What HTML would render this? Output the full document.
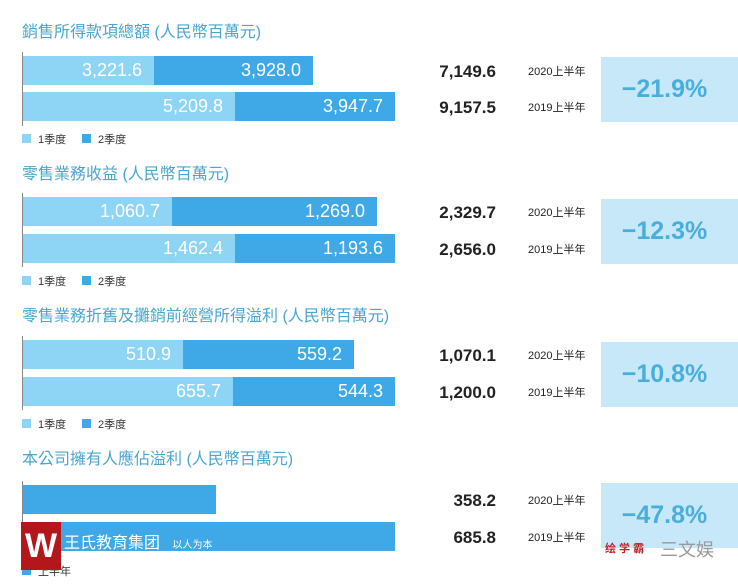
<!DOCTYPE html>
<html><head><meta charset="utf-8"><style>
body{margin:0;width:738px;height:584px;background:#fff;position:relative;overflow:hidden;font-family:"Liberation Sans","Noto Sans CJK TC",sans-serif}
.a{position:absolute}
.t{color:#4aa6cf;font-size:16px;left:22px}
.ax{width:1px;background:#888;left:22px}
.b{height:29px;color:#fff;font-size:18px;line-height:29px;text-align:right;box-sizing:border-box;padding-right:12px}
.l{background:#8dd4f5}.d{background:#3ea9e6}
.v{font-size:17px;font-weight:bold;color:#222;width:100px;text-align:right;left:396px}
.y{font-size:11px;color:#222;left:528px}
.bx{left:601px;width:137px;height:65px;background:#c6e8f8;color:#4aaedc;font-size:25px;font-weight:bold;line-height:65px;text-align:center;box-sizing:border-box;padding-right:10px}
.lg{font-size:11px;color:#333}
.sq{width:9px;height:9px}
</style></head><body>
<div class="a t" style="top:18px">銷售所得款項總額 (人民幣百萬元)</div>
<div class="a ax" style="top:52px;height:74px"></div>
<div class="a b l" style="left:23px;top:56px;width:131px">3,221.6</div>
<div class="a b d" style="left:154px;top:56px;width:159px">3,928.0</div>
<div class="a b l" style="left:23px;top:92px;width:212px">5,209.8</div>
<div class="a b d" style="left:235px;top:92px;width:160px">3,947.7</div>
<div class="a v" style="top:62px">7,149.6</div><div class="a v" style="top:98px">9,157.5</div>
<div class="a y" style="top:63px">2020上半年</div><div class="a y" style="top:99px">2019上半年</div>
<div class="a bx" style="top:57px">−21.9%</div>
<div class="a sq l" style="left:22px;top:134px"></div><div class="a lg" style="left:38px;top:131px">1季度</div>
<div class="a sq d" style="left:82px;top:134px"></div><div class="a lg" style="left:98px;top:131px">2季度</div>
<div class="a t" style="top:160px">零售業務收益 (人民幣百萬元)</div>
<div class="a ax" style="top:193px;height:74px"></div>
<div class="a b l" style="left:23px;top:197px;width:149px">1,060.7</div>
<div class="a b d" style="left:172px;top:197px;width:205px">1,269.0</div>
<div class="a b l" style="left:23px;top:234px;width:212px">1,462.4</div>
<div class="a b d" style="left:235px;top:234px;width:160px">1,193.6</div>
<div class="a v" style="top:203px">2,329.7</div><div class="a v" style="top:240px">2,656.0</div>
<div class="a y" style="top:204px">2020上半年</div><div class="a y" style="top:241px">2019上半年</div>
<div class="a bx" style="top:199px">−12.3%</div>
<div class="a sq l" style="left:22px;top:276px"></div><div class="a lg" style="left:38px;top:273px">1季度</div>
<div class="a sq d" style="left:82px;top:276px"></div><div class="a lg" style="left:98px;top:273px">2季度</div>
<div class="a t" style="top:302px">零售業務折舊及攤銷前經營所得溢利 (人民幣百萬元)</div>
<div class="a ax" style="top:336px;height:74px"></div>
<div class="a b l" style="left:23px;top:340px;width:160px">510.9</div>
<div class="a b d" style="left:183px;top:340px;width:171px">559.2</div>
<div class="a b l" style="left:23px;top:377px;width:210px">655.7</div>
<div class="a b d" style="left:233px;top:377px;width:162px">544.3</div>
<div class="a v" style="top:346px">1,070.1</div><div class="a v" style="top:383px">1,200.0</div>
<div class="a y" style="top:347px">2020上半年</div><div class="a y" style="top:384px">2019上半年</div>
<div class="a bx" style="top:342px">−10.8%</div>
<div class="a sq l" style="left:22px;top:419px"></div><div class="a lg" style="left:38px;top:416px">1季度</div>
<div class="a sq d" style="left:82px;top:419px"></div><div class="a lg" style="left:98px;top:416px">2季度</div>
<div class="a t" style="top:445px">本公司擁有人應佔溢利 (人民幣百萬元)</div>
<div class="a ax" style="top:481px;height:74px"></div>
<div class="a b d" style="left:23px;top:485px;width:193px"></div>
<div class="a b d" style="left:23px;top:522px;width:372px"></div>
<div class="a v" style="top:491px">358.2</div><div class="a v" style="top:528px">685.8</div>
<div class="a y" style="top:492px">2020上半年</div><div class="a y" style="top:529px">2019上半年</div>
<div class="a bx" style="top:483px">−47.8%</div>
<div class="a sq d" style="left:22px;top:566px"></div><div class="a lg" style="left:38px;top:563px">上半年</div>
<div class="a" style="left:21px;top:522px;width:40px;height:48px;background:#b3171c;color:#fff;font-size:34px;font-weight:bold;text-align:center;line-height:48px">W</div>
<div class="a" style="left:64px;top:529px;color:#fff;font-size:16px">王氏教育集团 <span style="font-size:10px;margin-left:8px">以人为本</span></div>
<div class="a" style="left:605px;top:540px;color:#c0202a;font-size:11px;font-weight:bold">绘 学 霸</div>
<div class="a" style="left:660px;top:536px;color:#999;font-size:18px">三文娱</div>
</body></html>
